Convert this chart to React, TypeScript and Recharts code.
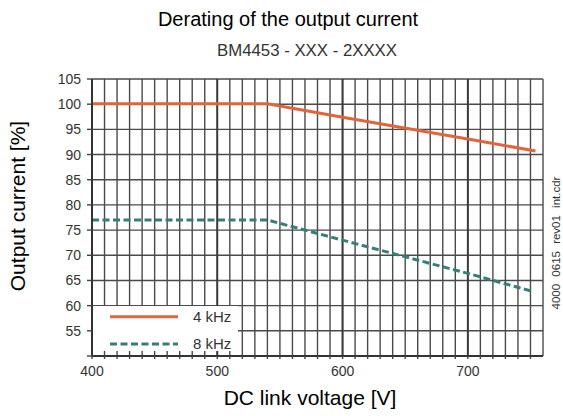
import React from 'react';
import { LineChart, Line, XAxis, YAxis, CartesianGrid, ReferenceLine } from 'recharts';

// ---- data ----
const voltage4k = [400, 540, 600, 700, 754];
const current4k = [100.1, 100.1, 97.4, 93.1, 90.7];
const voltage8k = [400, 540, 600, 700, 752];
const current8k = [77, 77, 73.0, 66.4, 62.8];

const xTicks = [400, 410, 420, 430, 440, 450, 460, 470, 480, 490, 500, 510, 520, 530, 540, 550, 560, 570, 580, 590,
  600, 610, 620, 630, 640, 650, 660, 670, 680, 690, 700, 710, 720, 730, 740, 750];
const xMajor = [500, 600, 700];
const yTicks = [50, 55, 60, 65, 70, 75, 80, 85, 90, 95, 100, 105];
const seriesNames = ['4 kHz', '8 kHz'];

const data4 = voltage4k.map((x, i) => ({ x, y: current4k[i] }));
const data8 = voltage8k.map((x, i) => ({ x, y: current8k[i] }));

const RED = '#E0663A';
const TEAL = '#367F77';
const FONT = '"Liberation Sans", Arial, sans-serif';

function Rotated({ text, cx, cy, w, h, size, color, wordSpacing }: any) {
  return (
    <div
      style={{
        position: 'absolute', left: cx - w / 2, top: cy - h / 2, width: w, height: h,
        lineHeight: h + 'px', textAlign: 'center', fontSize: size, color,
        transform: 'rotate(-90deg)', transformOrigin: 'center', whiteSpace: 'nowrap',
        wordSpacing: wordSpacing || 0,
      }}
    >
      {text}
    </div>
  );
}

export default function App() {
  return (
    <div style={{ position: 'absolute', left: 0, top: 0, width: 563, height: 416, fontFamily: FONT, background: '#fff', overflow: 'hidden' }}>
      <LineChart width={563} height={416} margin={{ top: 79, right: 20, bottom: 30, left: 52 }}>
        <CartesianGrid stroke="#4a4a4a" strokeWidth={1.4} />
        <XAxis
          type="number" dataKey="x" domain={[400, 760]} ticks={xTicks} interval={0}
          tickFormatter={(v: number) => (v % 100 === 0 ? String(v) : '')}
          height={30} tickSize={3} tickMargin={7}
          axisLine={{ stroke: '#333', strokeWidth: 2 }}
          tickLine={{ stroke: '#444', strokeWidth: 1.4 }}
          tick={{ fill: '#333', fontSize: 14, fontFamily: FONT }}
          allowDataOverflow
        />
        <YAxis
          type="number" domain={[50, 105]} ticks={yTicks} interval={0}
          tickFormatter={(v: number) => (v === 50 ? '' : String(v))}
          width={40} tickSize={5} tickMargin={6}
          axisLine={{ stroke: '#333', strokeWidth: 2 }}
          tickLine={{ stroke: '#444', strokeWidth: 1.4 }}
          tick={{ fill: '#333', fontSize: 14, fontFamily: FONT }}
          allowDataOverflow
        />
        {xMajor.map((v) => (
          <ReferenceLine key={v} x={v} stroke="#3a3a3a" strokeWidth={1.9} />
        ))}
        <Line data={data4} dataKey="y" type="linear" stroke={RED} strokeWidth={3} dot={false} isAnimationActive={false} name={seriesNames[0]} />
        <Line data={data8} dataKey="y" type="linear" stroke={TEAL} strokeWidth={3} strokeDasharray="7 3.5" dot={false} isAnimationActive={false} name={seriesNames[1]} />
      </LineChart>

      {/* legend */}
      <div style={{ position: 'absolute', left: 93, top: 306, width: 145, height: 45, background: '#fff' }}>
        <svg width={145} height={45} style={{ position: 'absolute', left: 0, top: 0 }}>
          <line x1={17} x2={85} y1={10.7} y2={10.7} stroke={RED} strokeWidth={3} />
          <line x1={17} x2={85} y1={38} y2={38} stroke={TEAL} strokeWidth={3} strokeDasharray="7 3.5" />
        </svg>
        <div style={{ position: 'absolute', left: 100, top: 1, height: 20, lineHeight: '20px', fontSize: 15, color: '#333' }}>{seriesNames[0]}</div>
        <div style={{ position: 'absolute', left: 100, top: 28, height: 20, lineHeight: '20px', fontSize: 15, color: '#333' }}>{seriesNames[1]}</div>
      </div>

      {/* titles */}
      <div style={{ position: 'absolute', left: 88, top: 6, width: 400, height: 26, lineHeight: '26px', textAlign: 'center', fontSize: 20, color: '#000' }}>
        Derating of the output current
      </div>
      <div style={{ position: 'absolute', left: 157, top: 40, width: 300, height: 22, lineHeight: '22px', textAlign: 'center', fontSize: 16.8, color: '#333' }}>
        BM4453 - XXX - 2XXXX
      </div>
      <div style={{ position: 'absolute', left: 160, top: 384, width: 300, height: 28, lineHeight: '28px', textAlign: 'center', fontSize: 21, color: '#000' }}>
        DC link voltage [V]
      </div>
      <Rotated text="Output current [%]" cx={18} cy={206} w={220} h={26} size={21} color="#000" />
      <Rotated text="4000 0615 rev01 int.cdr" cx={556} cy={243} w={160} h={12} size={11.5} color="#333" wordSpacing={4} />
    </div>
  );
}
